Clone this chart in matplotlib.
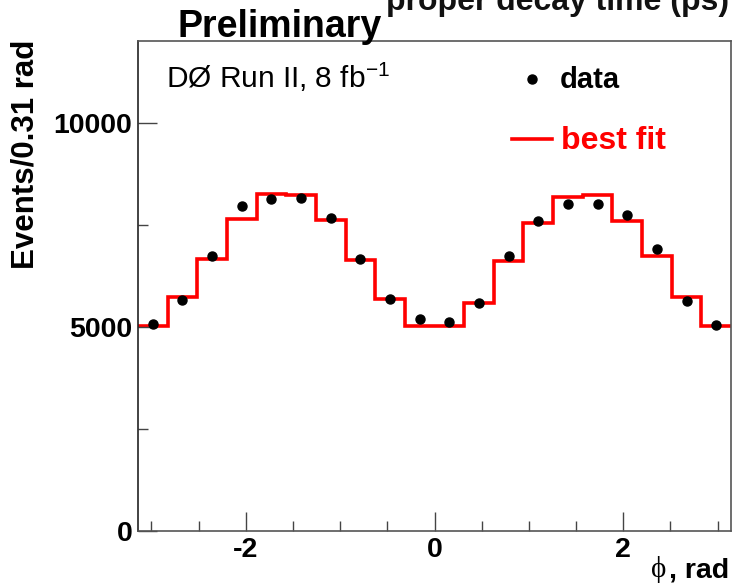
import numpy as np
import matplotlib
matplotlib.use('Agg')
import matplotlib.pyplot as plt
from matplotlib.ticker import MultipleLocator

plt.rcParams['font.family'] = ['Liberation Sans', 'DejaVu Sans']
plt.rcParams['mathtext.fontset'] = 'custom'
plt.rcParams['mathtext.rm'] = 'Liberation Sans'
plt.rcParams['mathtext.bf'] = 'Liberation Sans:bold'
plt.rcParams['axes.unicode_minus'] = False

# 20 bins over [-pi, pi]
n_bins = 20
data_counts = [5070, 5660, 6730, 7955, 8130, 8160, 7670, 6660, 5670, 5190,
               5130, 5590, 6730, 7600, 8000, 8010, 7750, 6900, 5635, 5050]
fit_counts = [5020, 5740, 6660, 7650, 8260, 8230, 7620, 6640, 5690, 5010,
              5020, 5580, 6620, 7540, 8170, 8230, 7600, 6740, 5740, 5030]

edges = np.linspace(-np.pi, np.pi, n_bins + 1)
centers = 0.5 * (edges[:-1] + edges[1:])

fig = plt.figure(figsize=(7.34, 5.88), dpi=100)
ax = fig.add_axes([138/734, 1 - 531/588, (731 - 138)/734, (531 - 41)/588])

ax.stairs(fit_counts, edges, baseline=None, color='red', linewidth=2.6)
ax.plot(centers, data_counts, 'o', color='black', markersize=6.5, zorder=3)

ax.set_xlim(-np.pi, np.pi)
ax.set_ylim(0, 12000)
ax.xaxis.set_major_locator(MultipleLocator(2))
ax.xaxis.set_minor_locator(MultipleLocator(0.5))
ax.yaxis.set_major_locator(MultipleLocator(5000))
ax.yaxis.set_minor_locator(MultipleLocator(2500))
ax.tick_params(which='both', direction='in', top=False, right=False,
               color='#444444', width=1.0)
ax.tick_params(which='major', length=13.5, labelsize=20.5, pad=4)
ax.tick_params(which='minor', length=7)
for lab in ax.get_xticklabels() + ax.get_yticklabels():
    lab.set_fontweight('bold')
for s in ax.spines.values():
    s.set_color('#555555')
    s.set_linewidth(1.2)
ax.spines['left'].set_color('#222222')

# axis titles
fig.text(25/734, 1 - 40/588, 'Events/0.31 rad', rotation=90, ha='center',
         va='top', fontsize=22.5, fontweight='bold')
fig.text(729/734, 1 - 577/588, ', rad', ha='right', va='baseline',
         fontsize=20.5, fontweight='bold')
fig.text(666/734, 1 - 577/588, 'ϕ', ha='right', va='baseline',
         fontsize=21, family=['Liberation Serif', 'DejaVu Serif'])

# header texts
fig.text(178/734, 1 - 37/588, 'Preliminary', ha='left', va='baseline',
         fontsize=27, fontweight='bold')
fig.text(386/734, 1 - 10/588, 'proper decay time (ps)', ha='left',
         va='baseline', fontsize=23, fontweight='bold', color='#111111')

# in-plot texts and legend
fig.text(166/734, 1 - 88/588, r'DØ Run II, 8 fb$^{-1}$', ha='left',
         va='baseline', fontsize=21.5)
fig.lines.append(plt.Line2D([532/734], [1 - 79/588], marker='o', color='black',
                            markersize=6.5, transform=fig.transFigure))
fig.text(560/734, 1 - 88/588, 'data', ha='left', va='baseline',
         fontsize=21, fontweight='bold')
fig.lines.append(plt.Line2D([512/734, 552/734], [1 - 139/588, 1 - 139/588],
                            color='red', linewidth=2.6, transform=fig.transFigure))
fig.text(561/734, 1 - 149/588, 'best fit', ha='left', va='baseline',
         fontsize=23, fontweight='bold', color='red')

fig.savefig('out.png', dpi=100)
